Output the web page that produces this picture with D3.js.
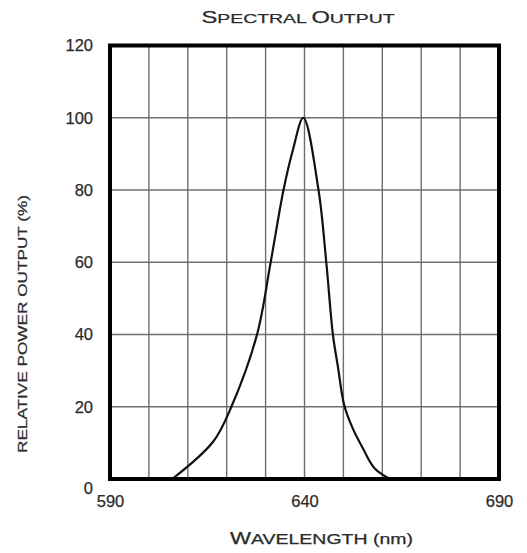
<!DOCTYPE html>
<html>
<head>
<meta charset="utf-8">
<script src="https://cdn.jsdelivr.net/npm/d3@7"></script>
<style>
  html, body { margin: 0; padding: 0; background: #fff; }
  svg { display: block; }
  text { font-family: "Liberation Sans", Arial, sans-serif; fill: #2b2b2b; stroke: #2b2b2b; stroke-width: 0.25px; }
</style>
</head>
<body>
<svg id="chart" width="527" height="553"></svg>
<script>
// wavelength (nm) and relative output (%)
const wavelengths = [606, 616.5, 621.2, 627.8, 631.3, 634.6, 637, 639.7, 643.6, 645.6, 647.3, 648.6, 650.2, 652.4, 655, 658, 662];
const powerValues = [0, 10.3, 20, 40, 60, 80, 91, 100, 80, 60, 40, 31, 20.5, 14, 8.5, 3, 0];
const xTicks = [590, 640, 690];
const yTicks = [0, 20, 40, 60, 80, 100, 120];
const xGrid = d3.range(590, 691, 10);
const yGrid = d3.range(0, 121, 20);

const svg = d3.select('#chart');
const plotLeft = 110, plotRight = 499, plotTop = 45.5, plotBottom = 479;

const x = d3.scaleLinear().domain([590, 690]).range([plotLeft, plotRight]);
const y = d3.scaleLinear().domain([0, 120]).range([plotBottom, plotTop]);

// grid
const grid = svg.append('g')
  .attr('stroke', '#6e6e6e')
  .attr('stroke-width', 1.4);

grid.selectAll('line.v')
  .data(xGrid.slice(1, -1))
  .join('line')
  .attr('class', 'v')
  .attr('x1', d => x(d)).attr('x2', d => x(d))
  .attr('y1', plotTop).attr('y2', plotBottom);

grid.selectAll('line.h')
  .data(yGrid.slice(1, -1))
  .join('line')
  .attr('class', 'h')
  .attr('x1', plotLeft).attr('x2', plotRight)
  .attr('y1', d => y(d)).attr('y2', d => y(d));

// curve
const line = d3.line()
  .x((d, i) => x(wavelengths[i]))
  .y(d => y(d))
  .curve(d3.curveCatmullRom.alpha(0.5));

svg.append('path')
  .datum(powerValues)
  .attr('fill', 'none')
  .attr('stroke', '#111')
  .attr('stroke-width', 2.2)
  .attr('d', line);

// frame
svg.append('rect')
  .attr('x', plotLeft).attr('y', plotTop)
  .attr('width', plotRight - plotLeft).attr('height', plotBottom - plotTop)
  .attr('fill', 'none')
  .attr('stroke', '#000')
  .attr('stroke-width', 4);

// axes (labels only)
const xAxis = svg.append('g')
  .attr('transform', `translate(0,${plotBottom})`)
  .call(d3.axisBottom(x).tickValues(xTicks).tickSize(0).tickPadding(16).tickFormat(d3.format('d')));
xAxis.select('.domain').remove();

const yAxis = svg.append('g')
  .attr('transform', `translate(${plotLeft},0)`)
  .call(d3.axisLeft(y).tickValues(yTicks).tickSize(0).tickPadding(17).tickFormat(d3.format('d')));
yAxis.select('.domain').remove();
yAxis.selectAll('.tick').filter(d => d === 0).select('text').attr('y', 9);

svg.selectAll('.tick text')
  .style('font-family', '"Liberation Sans", Arial, sans-serif')
  .style('font-size', '16.5px')
  .attr('fill', '#2b2b2b');

// titles
const title = svg.append('text')
  .attr('x', 298).attr('y', 23)
  .attr('text-anchor', 'middle')
  .attr('textLength', 193)
  .attr('lengthAdjust', 'spacingAndGlyphs');
title.append('tspan').style('font-size', '16.5px').text('S');
title.append('tspan').style('font-size', '13.5px').text('PECTRAL ');
title.append('tspan').style('font-size', '16.5px').text('O');
title.append('tspan').style('font-size', '13.5px').text('UTPUT');

const xLabel = svg.append('text')
  .attr('x', 321.5).attr('y', 544)
  .attr('text-anchor', 'middle')
  .attr('textLength', 183)
  .attr('lengthAdjust', 'spacingAndGlyphs');
xLabel.append('tspan').style('font-size', '16px').text('W');
xLabel.append('tspan').style('font-size', '14px').text('AVELENGTH (nm)');

svg.append('text')
  .attr('transform', 'translate(27,324) rotate(-90)')
  .attr('text-anchor', 'middle')
  .attr('textLength', 258)
  .attr('lengthAdjust', 'spacingAndGlyphs')
  .style('font-size', '13.5px')
  .text('RELATIVE POWER OUTPUT (%)');
</script>
</body>
</html>
